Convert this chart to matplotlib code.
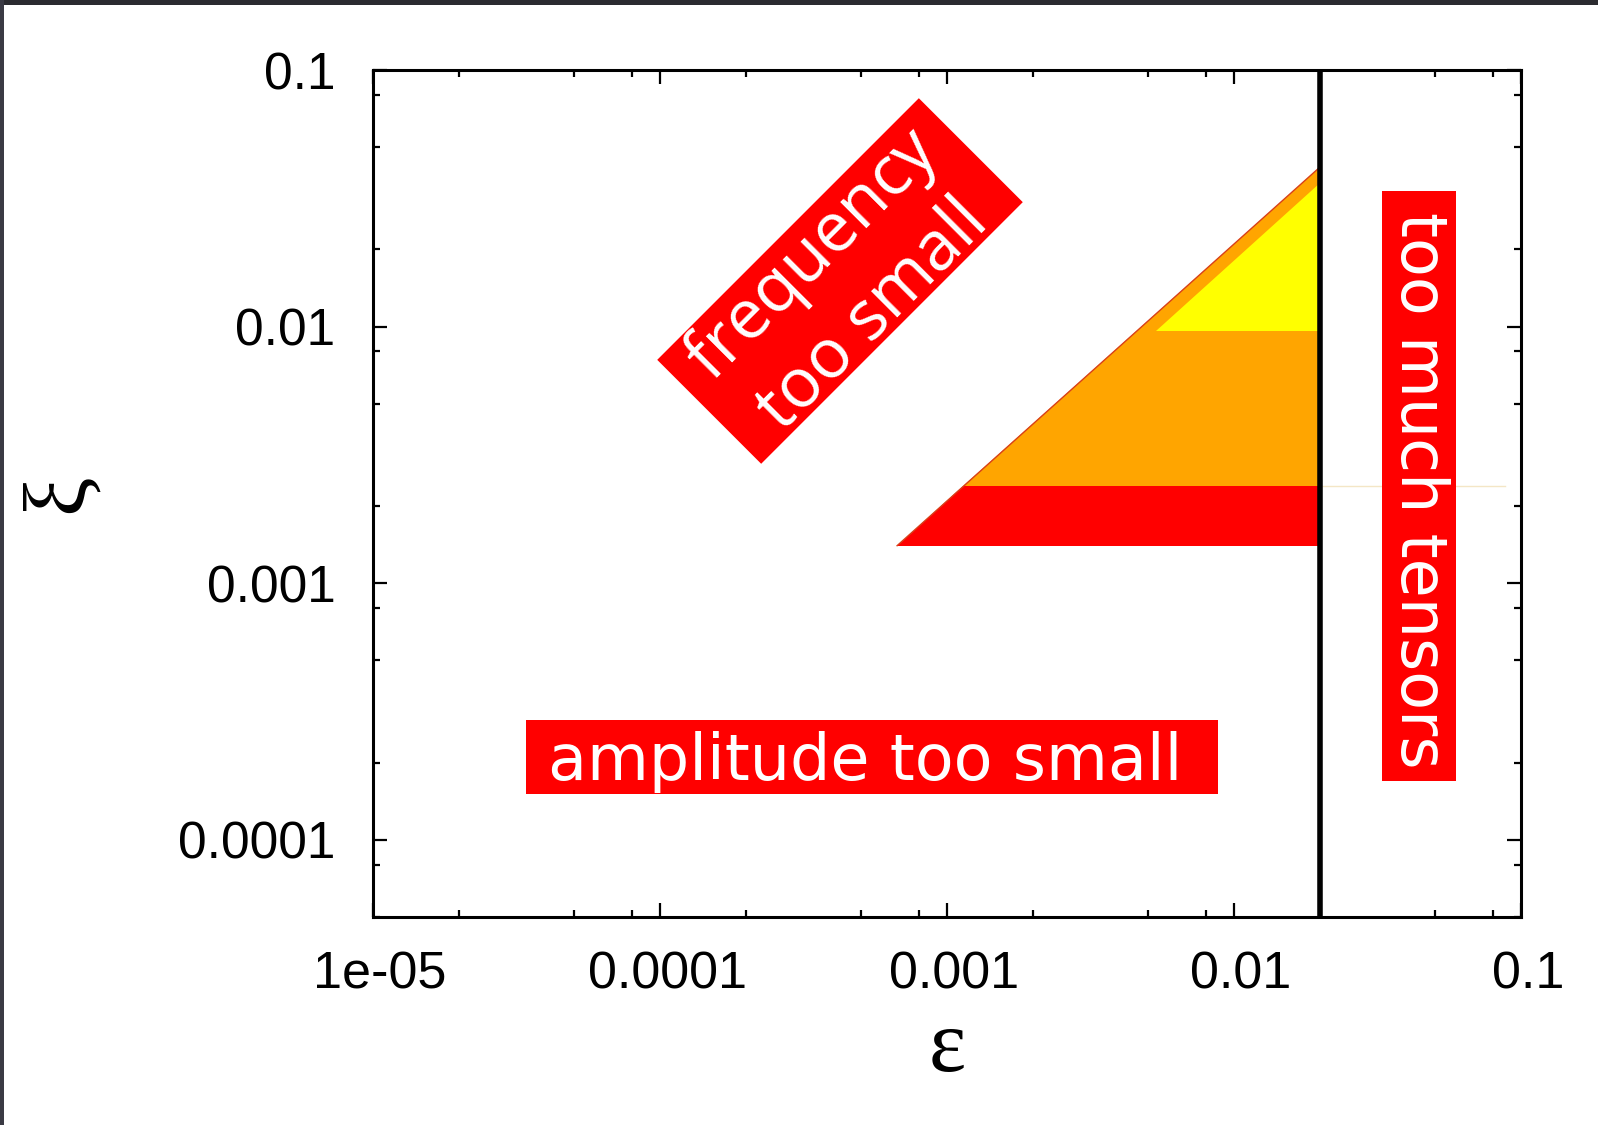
import matplotlib
matplotlib.use("Agg")
import matplotlib.pyplot as plt
import matplotlib.transforms as mtransforms
from matplotlib.patches import Rectangle
from matplotlib.ticker import LogLocator, NullFormatter

# Allowed regions in the (epsilon, xi) plane, as polygon vertices
red_eps = [6.7e-4, 0.02, 0.02, 1.14e-3]
red_xi = [1.4e-3, 1.4e-3, 2.4e-3, 2.4e-3]
orange_eps = [1.14e-3, 0.02, 0.02]
orange_xi = [2.4e-3, 2.4e-3, 0.042]
yellow_eps = [5.35e-3, 0.02, 0.02]
yellow_xi = [9.6e-3, 9.6e-3, 0.0363]
edge_eps = [6.7e-4, 0.02]
edge_xi = [1.4e-3, 0.042]
tensor_bound = 0.02
faint_eps = [0.02, 0.088]
faint_xi = [2.4e-3, 2.4e-3]

x_ticks = [1e-5, 1e-4, 1e-3, 1e-2, 1e-1]
x_ticklabels = ["1e-05", "0.0001", "0.001", "0.01", "0.1"]
y_ticks = [1e-4, 1e-3, 1e-2, 1e-1]
y_ticklabels = ["0.0001", "0.001", "0.01", "0.1"]

W, H, DPI = 1598, 1125, 100
fig = plt.figure(figsize=(W / DPI, H / DPI), dpi=DPI)
fig.patch.set_facecolor("white")

# axes frame in pixels: left 373, right 1521, top 70, bottom 917
L, R, T, B = 373, 1521, 70, 917
ax = fig.add_axes([L / W, 1 - B / H, (R - L) / W, (B - T) / H])
ax.set_xscale("log")
ax.set_yscale("log")
ax.set_xlim(1e-5, 0.1)
ax.set_ylim(5e-5, 0.1)

ax.fill(red_eps, red_xi, color="#ff0000", lw=0, zorder=2)
ax.fill(orange_eps, orange_xi, color="#ffa500", lw=0, zorder=2)
ax.fill(yellow_eps, yellow_xi, color="#ffff00", lw=0, zorder=3)
ax.plot(edge_eps, edge_xi, color="#d8401a", lw=1.0, zorder=4)
ax.plot(faint_eps, faint_xi, color="#f4e6c6", lw=1.0, zorder=1)
ax.axvline(tensor_bound, color="black", lw=4, zorder=5)

for s in ax.spines.values():
    s.set_linewidth(2.2)
    s.set_color("black")

ax.set_xticks(x_ticks)
ax.set_xticklabels(x_ticklabels)
ax.set_yticks(y_ticks)
ax.set_yticklabels(y_ticklabels)
for axis in (ax.xaxis, ax.yaxis):
    axis.set_minor_locator(LogLocator(base=10, subs=(2.0, 5.0, 8.0), numticks=20))
    axis.set_minor_formatter(NullFormatter())
ax.tick_params(which="both", direction="in", top=True, right=True, width=1.6)
ax.tick_params(which="major", length=10)
ax.tick_params(which="minor", length=5)
ax.tick_params(axis="x", which="major", pad=24)
ax.tick_params(axis="y", which="major", pad=27)
shift_right = mtransforms.ScaledTranslation(7 / DPI, 0, fig.dpi_scale_trans)
for lab in ax.get_xticklabels():
    lab.set_fontfamily("Liberation Sans")
    lab.set_fontsize(37.5)
    lab.set_transform(lab.get_transform() + shift_right)
for lab in ax.get_yticklabels():
    lab.set_fontfamily("Liberation Sans")
    lab.set_fontsize(37)

ax.set_xlabel("ε", fontsize=64, family="Liberation Serif", va="center")
ax.xaxis.set_label_coords(0.5, (B - 1050) / (B - T))
ax.set_ylabel("ξ", fontsize=64, family="Liberation Serif", rotation=90,
              va="center", ha="center")
ax.yaxis.set_label_coords((61 - L) / (R - L), 0.5)

def ax_x(px):
    return (px - L) / (R - L)

def ax_y(py):
    return (B - py) / (B - T)

# "amplitude too small" box
ax.add_patch(Rectangle((ax_x(526), ax_y(794)), ax_x(1218) - ax_x(526),
                       ax_y(720) - ax_y(794), transform=ax.transAxes,
                       color="#ff0000", lw=0, zorder=6, clip_on=False))
ax.text(ax_x(548), ax_y(780), "amplitude too small", transform=ax.transAxes,
        ha="left", va="baseline", fontsize=45.8, family="DejaVu Sans",
        color="white", zorder=7)

# "too much tensors" box
ax.add_patch(Rectangle((ax_x(1382), ax_y(781)), ax_x(1456) - ax_x(1382),
                       ax_y(191) - ax_y(781), transform=ax.transAxes,
                       color="#ff0000", lw=0, zorder=6, clip_on=False))
ax.text(ax_x(1419), ax_y(490), "too much tensors", transform=ax.transAxes,
        ha="center", va="center", rotation=-90, fontsize=45.8,
        family="DejaVu Sans", color="white", zorder=7)

# "frequency too small" tilted box (inches)
cx, cy = 840 / DPI, (H - 281) / DPI
bw, bh = 370 / DPI, 147 / DPI
tilt = mtransforms.Affine2D().rotate_deg_around(cx, cy, 45) + fig.dpi_scale_trans
fig.add_artist(Rectangle((cx - bw / 2, cy - bh / 2), bw, bh, transform=tilt,
                         color="#ff0000", lw=0, zorder=6))
fig.text(843 / W, 1 - 285 / H, "frequency\ntoo small", rotation=45,
         ha="center", va="center", ma="center", fontsize=49.5,
         family="Open Sans", color="white", linespacing=1.28, zorder=7)

# dark window edges
fig.add_artist(Rectangle((0, 1 - 5 / H), 1, 5 / H, transform=fig.transFigure,
                         color="#2b2b30", lw=0, zorder=10))
fig.add_artist(Rectangle((0, 0), 4 / W, 1, transform=fig.transFigure,
                         color="#3a3a44", lw=0, zorder=10))

fig.savefig("out.png", dpi=DPI)
